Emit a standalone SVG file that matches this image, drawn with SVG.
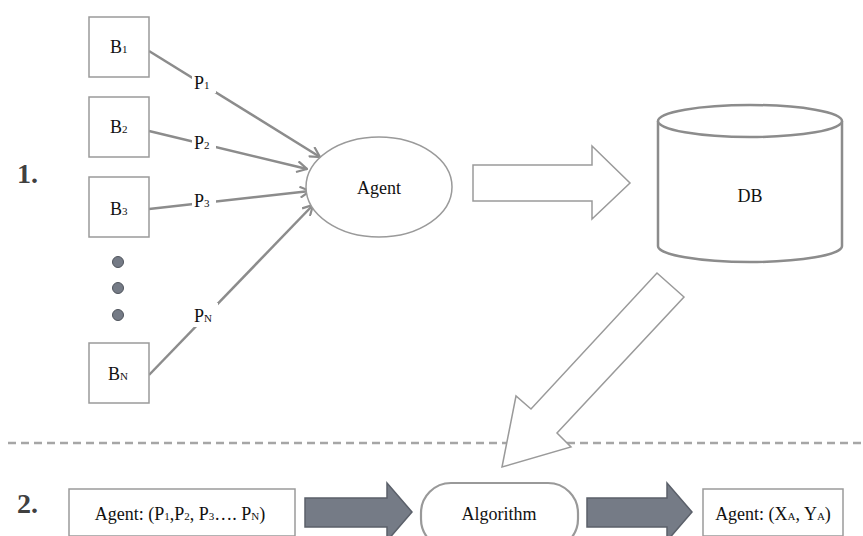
<svg xmlns="http://www.w3.org/2000/svg" width="863" height="536" viewBox="0 0 863 536">
<defs>
<style>
.t{font-family:"Liberation Serif","Times New Roman",serif;font-size:18px;fill:#111;}
.sub{font-size:11px;}
.box{fill:#fff;stroke:#9a9a9a;stroke-width:1.5;}
.con{stroke:#8c8c8c;stroke-width:2.5;fill:none;}
.lbl{fill:#fff;}
.hollow{fill:#fff;stroke:#9a9a9a;stroke-width:1.5;}
.dark{fill:#757b86;stroke:#5b606a;stroke-width:1.5;}
.num{font-family:"Liberation Serif","Times New Roman",serif;font-size:28px;font-weight:bold;fill:#404040;}
.dot{fill:#757b86;stroke:#4f545c;stroke-width:1;}
</style>
<marker id="ah" viewBox="0 0 12 12" refX="11" refY="6" markerWidth="12" markerHeight="12" markerUnits="userSpaceOnUse" orient="auto">
<path d="M1,0.5 L11,6 L1,11.5" fill="none" stroke="#8c8c8c" stroke-width="2.2"/>
</marker>
</defs>
<rect width="863" height="536" fill="#fff"/>
<text class="num" x="17" y="183">1.</text>
<text class="num" x="17" y="513">2.</text>
<g id="connectors">
<line class="con" x1="149" y1="51" x2="320" y2="157" marker-end="url(#ah)"/>
<line class="con" x1="149" y1="131" x2="307" y2="169" marker-end="url(#ah)"/>
<line class="con" x1="149" y1="209" x2="310" y2="191" marker-end="url(#ah)"/>
<line class="con" x1="149" y1="375" x2="313" y2="205" marker-end="url(#ah)"/>
<rect class="lbl" x="192" y="71" width="24" height="22"/>
<rect class="lbl" x="192" y="131" width="24" height="22"/>
<rect class="lbl" x="192" y="189" width="24" height="22"/>
<rect class="lbl" x="192" y="303" width="26" height="24"/>
<text class="t" x="194" y="89">P<tspan class="sub">1</tspan></text>
<text class="t" x="194" y="149">P<tspan class="sub">2</tspan></text>
<text class="t" x="194" y="207">P<tspan class="sub">3</tspan></text>
<text class="t" x="194" y="322">P<tspan class="sub">N</tspan></text>
</g>
<g id="B1"><rect class="box" x="89" y="17" width="60" height="60"/><text class="t" x="110" y="53">B<tspan class="sub">1</tspan></text></g>
<g id="B2"><rect class="box" x="89" y="97" width="60" height="60"/><text class="t" x="110" y="133">B<tspan class="sub">2</tspan></text></g>
<g id="B3"><rect class="box" x="89" y="177" width="60" height="60"/><text class="t" x="110" y="215">B<tspan class="sub">3</tspan></text></g>
<g id="dots"><circle class="dot" cx="118" cy="262" r="5.5"/><circle class="dot" cx="118" cy="288" r="5.5"/><circle class="dot" cx="118" cy="315" r="5.5"/></g>
<g id="BN"><rect class="box" x="89" y="343" width="60" height="60"/><text class="t" x="108" y="380">B<tspan class="sub">N</tspan></text></g>
<g id="agent"><ellipse cx="379" cy="187" rx="73" ry="50" fill="#fff" stroke="#9a9a9a" stroke-width="1.5"/><text class="t" x="379" y="194" text-anchor="middle">Agent</text></g>
<g id="arrow-right"><polygon class="hollow" points="473,165 592,165 592,146 630,183 592,219 592,201 473,201"/></g>
<g id="DB">
<path d="M658,121 L658,246 A92,16 0 0 0 842,246 L842,121" fill="#fff" stroke="#8c8c8c" stroke-width="2.5"/>
<ellipse cx="750" cy="121" rx="92" ry="16" fill="#fff" stroke="#8c8c8c" stroke-width="2.5"/>
<text class="t" x="750" y="202" text-anchor="middle">DB</text>
</g>
<line x1="8" y1="443" x2="863" y2="443" stroke="#a6a6a6" stroke-width="2.5" stroke-dasharray="8,5"/>
<g id="arrow-diag"><polygon class="hollow" points="657,273 684,297 557,433 571,447 502,467 516,396 531,409"/></g>
<g id="agent-params"><rect class="box" x="69" y="489" width="226" height="47"/><text class="t" x="180" y="520" text-anchor="middle">Agent: (P<tspan class="sub">1</tspan>,P<tspan class="sub">2</tspan>, P<tspan class="sub">3</tspan>…. P<tspan class="sub">N</tspan>)</text></g>
<g id="arrow-dark1"><polygon class="dark" points="305,498 387,498 387,483 412,512 387,541 387,527 305,527"/></g>
<g id="algorithm"><rect x="421" y="483" width="157" height="66" rx="30" fill="#fff" stroke="#999" stroke-width="2.2"/><text class="t" x="499" y="520" text-anchor="middle">Algorithm</text></g>
<g id="arrow-dark2"><polygon class="dark" points="587,498 667,498 667,483 692,512 667,541 667,527 587,527"/></g>
<g id="agent-xy"><rect class="box" x="703" y="489" width="140" height="47"/><text class="t" x="773" y="520" text-anchor="middle">Agent: (X<tspan class="sub">A</tspan>, Y<tspan class="sub">A</tspan>)</text></g>
</svg>
